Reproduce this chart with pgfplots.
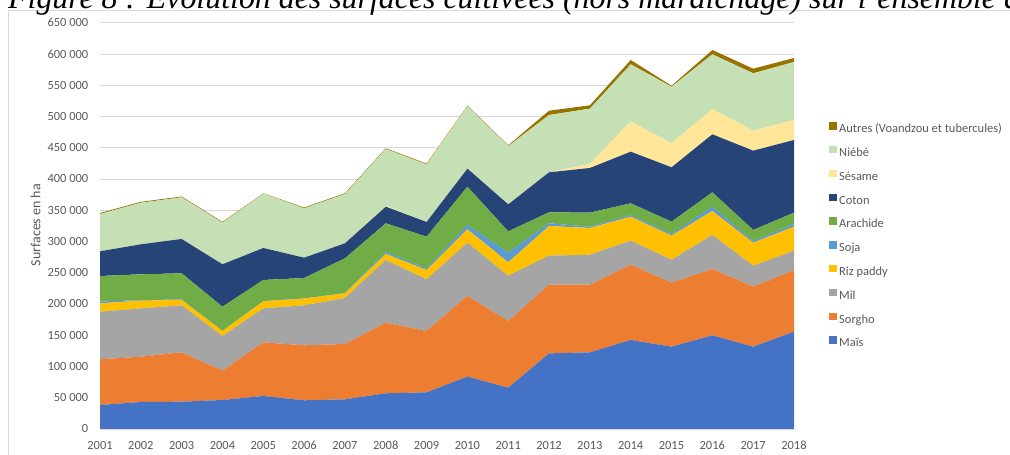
\documentclass[border=0pt]{standalone}
\usepackage{fontspec}
\setmainfont{Carlito}
\newfontfamily\titlefont{Liberation Serif}
\usepackage{pgfplots}
\usepackage{pgfplotstable}
\pgfplotsset{compat=1.18}

\definecolor{cMais}{HTML}{4472C4}
\definecolor{cSorgho}{HTML}{ED7D31}
\definecolor{cMil}{HTML}{A5A5A5}
\definecolor{cRiz}{HTML}{FFC000}
\definecolor{cSoja}{HTML}{5B9BD5}
\definecolor{cArachide}{HTML}{70AD47}
\definecolor{cCoton}{HTML}{264478}
\definecolor{cSesame}{HTML}{FFE699}
\definecolor{cNiebe}{HTML}{C5E0B4}
\definecolor{cAutres}{HTML}{997300}
\definecolor{cTick}{HTML}{595959}
\definecolor{cGrid}{HTML}{D9D9D9}

\pgfplotstableread{
year mais sorgho mil riz soja arachide coton sesame niebe autres
2001 38400 73100 76200 13300 3000 40800 39500 0 59700 1500
2002 43200 72500 77300 12300 700 41500 48000 0 66500 1500
2003 43700 79000 75200 8500 1000 41700 54900 0 66700 1300
2004 46400 46900 55500 8000 200 38700 67800 0 66600 1200
2005 52800 85900 54400 11200 500 33600 51200 0 86900 600
2006 45900 88000 64000 10600 500 32600 32500 0 79000 1200
2007 47500 88500 73600 7500 400 55600 24000 0 78900 1200
2008 57100 113000 100300 9600 3200 45900 26600 1300 91000 1200
2009 58700 98100 82700 14900 2600 50700 23500 0 92200 1200
2010 83700 129100 85300 21400 6900 61300 28800 0 99800 1000
2011 66100 106700 72500 21400 15400 34100 43200 0 93400 1200
2012 121000 109900 46400 47500 4300 17600 64000 0 91700 6900
2013 122700 108200 48000 42700 2100 22400 71500 6400 88500 5400
2014 142400 120500 38400 38400 2700 18700 82600 48600 91200 6900
2015 131700 102400 36800 38400 2700 19700 87000 38400 90600 1600
2016 149900 106100 54400 38400 6900 23000 92800 40500 87500 6900
2017 131700 96000 33600 36800 2700 17600 126900 32000 91800 7400
2018 155700 98200 31400 38400 4300 18100 116300 32000 92800 6400
}\data

\begin{document}
\begin{tikzpicture}[x=1bp,y=1bp]
\useasboundingbox (0,0) rectangle (1010,455);
% frame of the chart area
\draw[cGrid, line width=0.8bp] (8,-5) -- (8,445) -- (1020,445);
% caption above the chart, cut by the top edge as in the reference
\node[anchor=base west, inner sep=0pt, font=\titlefont\itshape\fontsize{32}{38}\selectfont]
  at (8,446) {Figure 8 : Évolution des surfaces cultivées (hors maraîchage) sur l’ensemble de};
\begin{axis}[
  at={(100bp,26bp)}, anchor=south west,
  scale only axis,
  width=694bp, height=406.25bp,
  xmin=2001, xmax=2018,
  ymin=0, ymax=650000,
  enlarge x limits=false,
  stack plots=y,
  axis lines=left,
  axis line style={draw=none},
  major tick length=0pt,
  xtick={2001,2002,...,2018},
  ytick={0,50000,...,650000},
  ymajorgrids,
  grid style={cGrid, line width=0.9bp},
  scaled y ticks=false,
  tick label style={font=\fontsize{12.5}{15}\selectfont, text=cTick},
  x tick label style={/pgf/number format/.cd, 1000 sep={}, assume math mode=true, /tikz/.cd, inner sep=0pt, anchor=north, yshift=-12bp},
  y tick label style={/pgf/number format/.cd, fixed, 1000 sep={\ }, assume math mode=true, /tikz/.cd, inner sep=0pt, anchor=east, xshift=-11.5bp},
  ylabel={Surfaces en ha},
  every axis y label/.style={at={(axis description cs:-0.0929,0.502)}, rotate=90, anchor=center,
    font=\fontsize{14}{16}\selectfont, text=cTick},
  reverse legend,
  legend cell align=left,
  legend image code/.code={\fill[#1] (0bp,0bp) rectangle (7.5bp,7.5bp);},
  legend style={draw=none, fill=none, at={(axis description cs:1.046,0.7606)}, anchor=north west,
    font=\fontsize{12.5}{15}\selectfont, text=cTick,
    nodes={inner sep=0pt, text height=8bp, text depth=2bp},
    row sep=11.3bp, column sep=2.6bp},
]
\addplot[fill=cMais, draw=none] table[x=year, y=mais]{\data} \closedcycle;
\addplot[fill=cSorgho, draw=none] table[x=year, y=sorgho]{\data} \closedcycle;
\addplot[fill=cMil, draw=none] table[x=year, y=mil]{\data} \closedcycle;
\addplot[fill=cRiz, draw=none] table[x=year, y=riz]{\data} \closedcycle;
\addplot[fill=cSoja, draw=none] table[x=year, y=soja]{\data} \closedcycle;
\addplot[fill=cArachide, draw=none] table[x=year, y=arachide]{\data} \closedcycle;
\addplot[fill=cCoton, draw=none] table[x=year, y=coton]{\data} \closedcycle;
\addplot[fill=cSesame, draw=none] table[x=year, y=sesame]{\data} \closedcycle;
\addplot[fill=cNiebe, draw=none] table[x=year, y=niebe]{\data} \closedcycle;
\addplot[fill=cAutres, draw=none] table[x=year, y=autres]{\data} \closedcycle;
\legend{Maïs, Sorgho, Mil, Riz paddy, Soja, Arachide, Coton, Sésame, Niébé, Autres (Voandzou et tubercules)}
\end{axis}
\end{tikzpicture}
\end{document}
